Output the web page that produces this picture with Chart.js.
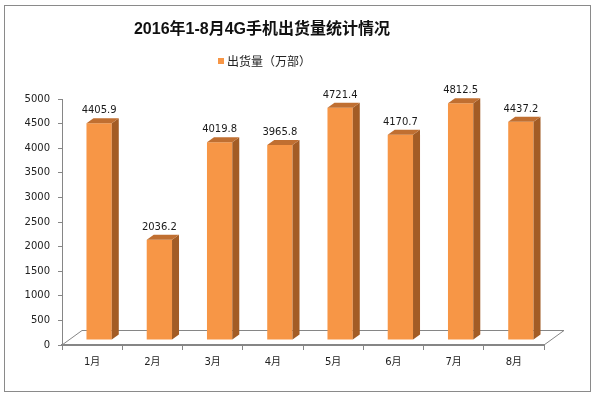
<!DOCTYPE html>
<html>
<head>
<meta charset="utf-8">
<script src="https://cdn.jsdelivr.net/npm/chart.js@4.4.1/dist/chart.umd.min.js"></script>
<style>
  html, body { margin: 0; padding: 0; background: #fff; }
  #wrap { width: 595px; height: 396px; position: relative; }
</style>
</head>
<body>
<div id="wrap"><canvas id="chart" width="595" height="396"></canvas></div>
<script>
// 数据
const months = ['1月', '2月', '3月', '4月', '5月', '6月', '7月', '8月'];
const shipments = [4405.9, 2036.2, 4019.8, 3965.8, 4721.4, 4170.7, 4812.5, 4437.2];
const chartTitle = '2016年1-8月4G手机出货量统计情况';
const seriesName = '出货量（万部）';

const orange = '#F79646';
const sideColor = '#A35C25';
const topColor = '#C06F31';
const axisColor = '#868686';
const baseFont = '"DejaVu Sans", "Noto Sans CJK SC", sans-serif';

// 3D 偏移
const barDx = 7, barDy = 5;
const floorDx = 20, floorDy = 15;

const threeD = {
    id: 'threeD',
    beforeDraw(chart) {
        const ctx = chart.ctx;
        ctx.save();
        ctx.fillStyle = '#fff';
        ctx.fillRect(0, 0, chart.width, chart.height);
        ctx.strokeStyle = '#8a8a8a';
        ctx.lineWidth = 1;
        ctx.strokeRect(4.5, 5.5, 586, 386);

        // 标题
        ctx.fillStyle = '#111';
        ctx.font = 'bold 16px "Liberation Sans", "Noto Sans CJK SC", sans-serif';
        ctx.textAlign = 'center';
        ctx.textBaseline = 'middle';
        ctx.fillText(chartTitle, 262, 30);

        // 图例
        ctx.fillStyle = orange;
        ctx.fillRect(218, 58, 6, 6);
        ctx.fillStyle = '#222';
        ctx.font = '12px "Noto Sans CJK SC", sans-serif';
        ctx.textAlign = 'left';
        ctx.fillText(seriesName, 227, 61.5);
        ctx.restore();
    },
    beforeDatasetsDraw(chart) {
        const ctx = chart.ctx;
        const a = chart.chartArea;
        // 底面
        ctx.save();
        ctx.strokeStyle = axisColor;
        ctx.lineWidth = 1;
        ctx.beginPath();
        ctx.moveTo(a.left, a.bottom);
        ctx.lineTo(a.left + floorDx, a.bottom - floorDy + 0.5);
        ctx.lineTo(a.right + floorDx, a.bottom - floorDy + 0.5);
        ctx.lineTo(a.right, a.bottom);
        ctx.stroke();
        ctx.restore();

        ctx.save();
        ctx.translate(barDx, -barDy);
    },
    afterDatasetsDraw(chart) {
        const ctx = chart.ctx;
        const meta = chart.getDatasetMeta(0);
        meta.data.forEach((bar, i) => {
            const p = bar.getProps(['x', 'y', 'base', 'width'], true);
            const l = p.x - p.width / 2, r = p.x + p.width / 2;
            // 侧面
            ctx.fillStyle = sideColor;
            ctx.beginPath();
            ctx.moveTo(r, p.y);
            ctx.lineTo(r + barDx, p.y - barDy);
            ctx.lineTo(r + barDx, p.base - barDy);
            ctx.lineTo(r, p.base);
            ctx.closePath();
            ctx.fill();
            // 顶面
            ctx.fillStyle = topColor;
            ctx.beginPath();
            ctx.moveTo(l, p.y);
            ctx.lineTo(l + barDx, p.y - barDy);
            ctx.lineTo(r + barDx, p.y - barDy);
            ctx.lineTo(r, p.y);
            ctx.closePath();
            ctx.fill();
            // 数据标签
            ctx.fillStyle = '#1a1a1a';
            ctx.font = '10px ' + baseFont;
            ctx.textAlign = 'center';
            ctx.textBaseline = 'alphabetic';
            ctx.fillText(shipments[i].toFixed(1), p.x, p.y - 10);
        });
        ctx.restore();
    }
};

new Chart(document.getElementById('chart'), {
    type: 'bar',
    data: {
        labels: months,
        datasets: [{
            label: seriesName,
            data: shipments,
            backgroundColor: orange,
            borderWidth: 0,
            categoryPercentage: 1,
            barPercentage: 0.42,
            clip: false
        }]
    },
    options: {
        responsive: false,
        animation: false,
        layout: { padding: { top: 99, left: 22, right: 51, bottom: 22 } },
        plugins: {
            legend: { display: false },
            title: { display: false },
            tooltip: { enabled: false }
        },
        scales: {
            x: {
                grid: { drawOnChartArea: false, tickLength: 5, color: axisColor, offset: true },
                border: { color: axisColor, width: 2 },
                ticks: { color: '#222', padding: 6, font: { family: baseFont, size: 10 } }
            },
            y: {
                min: 0,
                max: 5000,
                afterFit: scale => { scale.width = 40; },
                grid: { drawOnChartArea: false, tickLength: 4, color: axisColor },
                border: { color: axisColor, width: 1 },
                ticks: {
                    stepSize: 500,
                    color: '#222',
                    padding: 8,
                    font: { family: baseFont, size: 10 },
                    callback: v => v
                }
            }
        }
    },
    plugins: [threeD]
});
</script>
</body>
</html>
